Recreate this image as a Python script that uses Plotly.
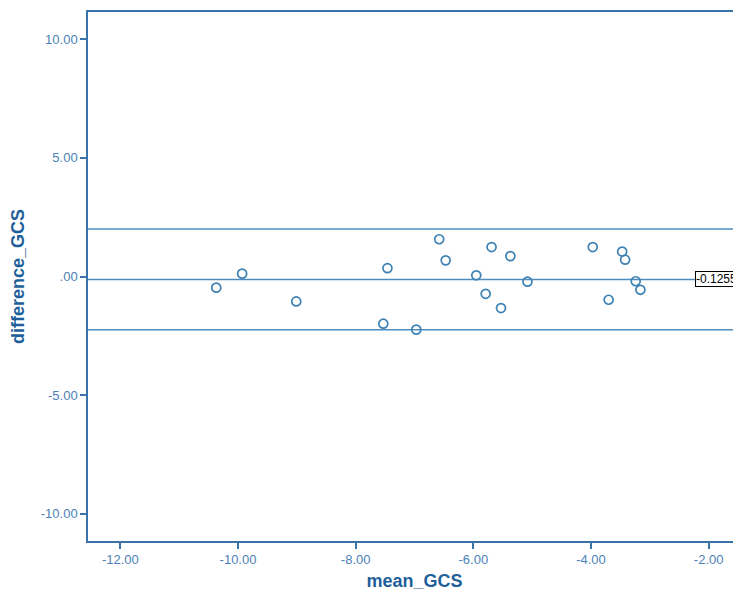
import plotly.graph_objects as go

mean_gcs = [-10.37, -9.93, -9.01, -7.46, -7.53, -6.97, -6.58, -6.47, -5.69, -5.37,
            -5.95, -5.08, -5.79, -5.53, -3.97, -3.47, -3.42, -3.24, -3.16, -3.70]
diff_gcs = [-0.47, 0.12, -1.05, 0.35, -1.99, -2.24, 1.57, 0.68, 1.24, 0.86,
            0.05, -0.22, -0.73, -1.33, 1.24, 1.05, 0.71, -0.20, -0.56, -0.98]

mean_diff = -0.1255
upper_loa = 2.0
lower_loa = -2.25

x_ticks = [-12, -10, -8, -6, -4, -2]
x_tick_text = ["-12.00", "-10.00", "-8.00", "-6.00", "-4.00", "-2.00"]
y_ticks = [10, 5, 0, -5, -10]
y_tick_text = ["10.00", "5.00", ".00", "-5.00", "-10.00"]

axis_col = "#3a73a8"
tick_col = "#4a82b8"
title_col = "#1f5f99"
mark_col = "#3e82b4"
line_col = "#4f8cbe"

W, H = 733, 589
L, T, B = 80, 4, 56

fig = go.Figure()
fig.add_trace(go.Scatter(
    x=mean_gcs, y=diff_gcs, mode="markers",
    marker=dict(symbol="circle-open", size=9, color=mark_col, line=dict(width=1.7, color=mark_col)),
    showlegend=False, hoverinfo="skip"))

for yv in [upper_loa, mean_diff, lower_loa]:
    fig.add_hline(y=yv, line=dict(color=line_col, width=1.5), layer="below")

fig.add_annotation(
    x=(687 - L) / (W - L), xref="paper", y=mean_diff, yref="y", text="-0.1255",
    showarrow=False, xanchor="left", yanchor="middle",
    font=dict(family="Liberation Sans, Arial", size=12, color="black"),
    bgcolor="white", bordercolor="black", borderwidth=1, borderpad=0)

fig.update_layout(
    width=W, height=H,
    margin=dict(l=L, r=0, t=T, b=B),
    paper_bgcolor="white", plot_bgcolor="white",
    font=dict(family="Liberation Sans, Arial", color=tick_col),
    xaxis=dict(range=[-12.55, -1.45], tickvals=x_ticks, ticktext=x_tick_text,
               showgrid=False, zeroline=False, showline=True, linecolor=axis_col, linewidth=1.5,
               mirror=True, ticks="outside", ticklen=6, tickcolor=axis_col, tickwidth=1.5,
               tickfont=dict(size=13, color=tick_col),
               title=dict(text="<b>mean_GCS</b>", font=dict(size=18, color=title_col), standoff=8)),
    yaxis=dict(range=[-11.15, 11.15], tickvals=y_ticks, ticktext=y_tick_text,
               showgrid=False, zeroline=False, showline=True, linecolor=axis_col, linewidth=1.5,
               ticks="outside", ticklen=6, tickcolor=axis_col, tickwidth=1.5,
               tickfont=dict(size=13, color=tick_col),
               title=dict(text="<b>difference_GCS</b>", font=dict(size=18, color=title_col), standoff=12)),
)

fig.write_html("out.html")
